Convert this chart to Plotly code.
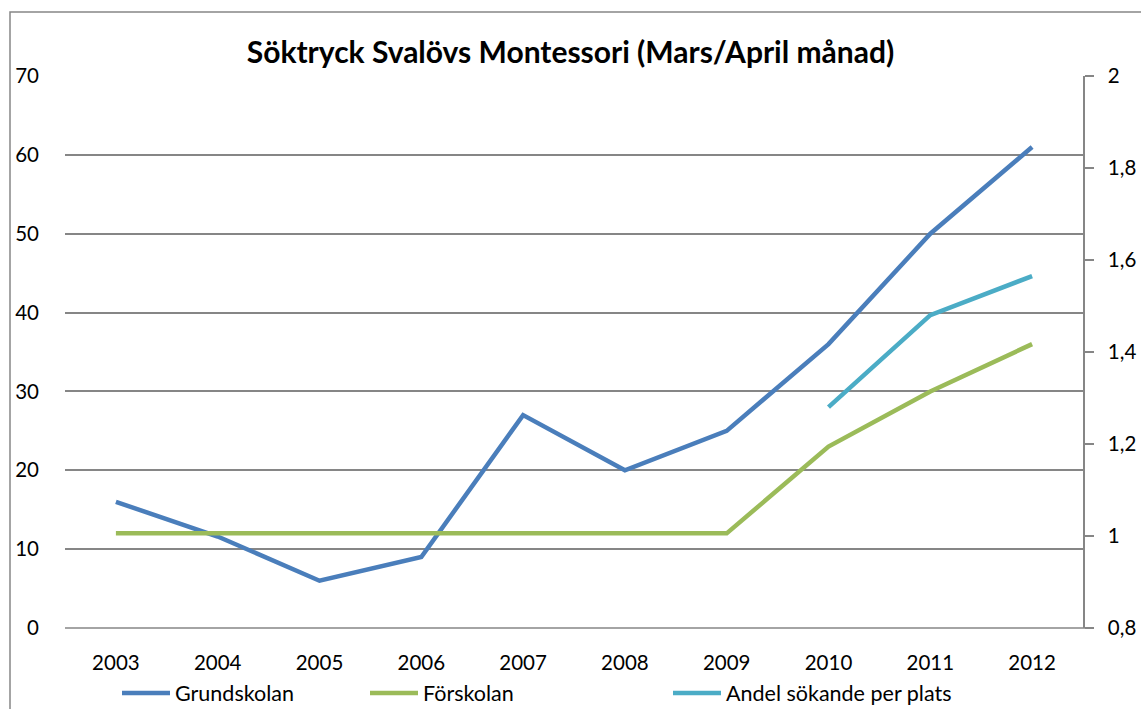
import plotly.graph_objects as go

years = ["2003", "2004", "2005", "2006", "2007", "2008", "2009", "2010", "2011", "2012"]
grundskolan = [16, 11.6, 6, 9, 27, 20, 25, 36, 50, 61]
forskolan = [12, 12, 12, 12, 12, 12, 12, 23, 30, 36]
andel = [None, None, None, None, None, None, None, 1.28, 1.48, 1.565]

left_ticks = [0, 10, 20, 30, 40, 50, 60, 70]
right_ticks = [0.8, 1.0, 1.2, 1.4, 1.6, 1.8, 2.0]
right_labels = ["0,8", "1", "1,2", "1,4", "1,6", "1,8", "2"]

FONT = "Lato"

fig = go.Figure()
fig.add_trace(go.Scatter(x=years, y=grundskolan, name="Grundskolan", mode="lines",
                         line=dict(color="#4A7EBB", width=4.5), legend="legend"))
fig.add_trace(go.Scatter(x=years, y=forskolan, name="Förskolan", mode="lines",
                         line=dict(color="#9BBB59", width=4.5), legend="legend2"))
fig.add_trace(go.Scatter(x=years, y=andel, name="Andel sökande per plats", mode="lines",
                         line=dict(color="#4BACC6", width=4.5), yaxis="y2",
                         legend="legend3"))

leg_common = dict(orientation="h", xanchor="left", xref="paper",
                  y=(709 - 693) / 709, yanchor="middle", yref="container",
                  font=dict(size=21.5), itemwidth=48, bgcolor="rgba(0,0,0,0)")

fig.update_layout(
    width=1141, height=709,
    margin=dict(l=65, r=58, t=76, b=81, autoexpand=False),
    paper_bgcolor="white", plot_bgcolor="white",
    font=dict(family=FONT, size=20.5, color="black"),
    separators=", ",
    title=dict(text="<b>Söktryck Svalövs Montessori (Mars/April månad)</b>",
               x=0.5, xanchor="center", y=1 - 52 / 709, yanchor="middle",
               font=dict(family=FONT, size=30, color="black")),
    xaxis=dict(type="category", range=[-0.5, 9.5], showgrid=False,
               showline=False, ticks="", zeroline=False,
               ticklabelstandoff=20, automargin=False),
    yaxis=dict(range=[0, 70], tickvals=left_ticks, showgrid=True,
               gridcolor="#868686", gridwidth=1.5, zeroline=False,
               showline=False, ticks="", ticklabelstandoff=25, automargin=False),
    yaxis2=dict(range=[0.8, 2.0], tickvals=right_ticks, ticktext=right_labels,
                overlaying="y", side="right", showgrid=False, zeroline=False,
                showline=True, linecolor="#868686", linewidth=1.5,
                ticks="outside", ticklen=9, tickcolor="#868686", tickwidth=1.5,
                ticklabelstandoff=10, automargin=False),
    legend=dict(x=(117 - 65) / 1018, **leg_common),
    legend2=dict(x=(365 - 65) / 1018, **leg_common),
    legend3=dict(x=(668 - 65) / 1018, **leg_common),
    showlegend=True,
)

# bottom axis line (extends slightly right like reference)
fig.add_shape(type="line", xref="paper", yref="paper", x0=0, x1=1.009, y0=0, y1=0,
              line=dict(color="#868686", width=1.5), layer="below")
# outer chart border
fig.add_shape(type="rect", xref="paper", yref="paper",
              x0=(10 - 65) / 1018, x1=1.2, y0=-0.3, y1=(628 - 12) / 552,
              line=dict(color="#868686", width=1.5))

fig.write_html(
    "out.html",
    config={"displayModeBar": False},
    post_script="document.body.style.margin='0';document.documentElement.style.overflow='hidden';",
)
